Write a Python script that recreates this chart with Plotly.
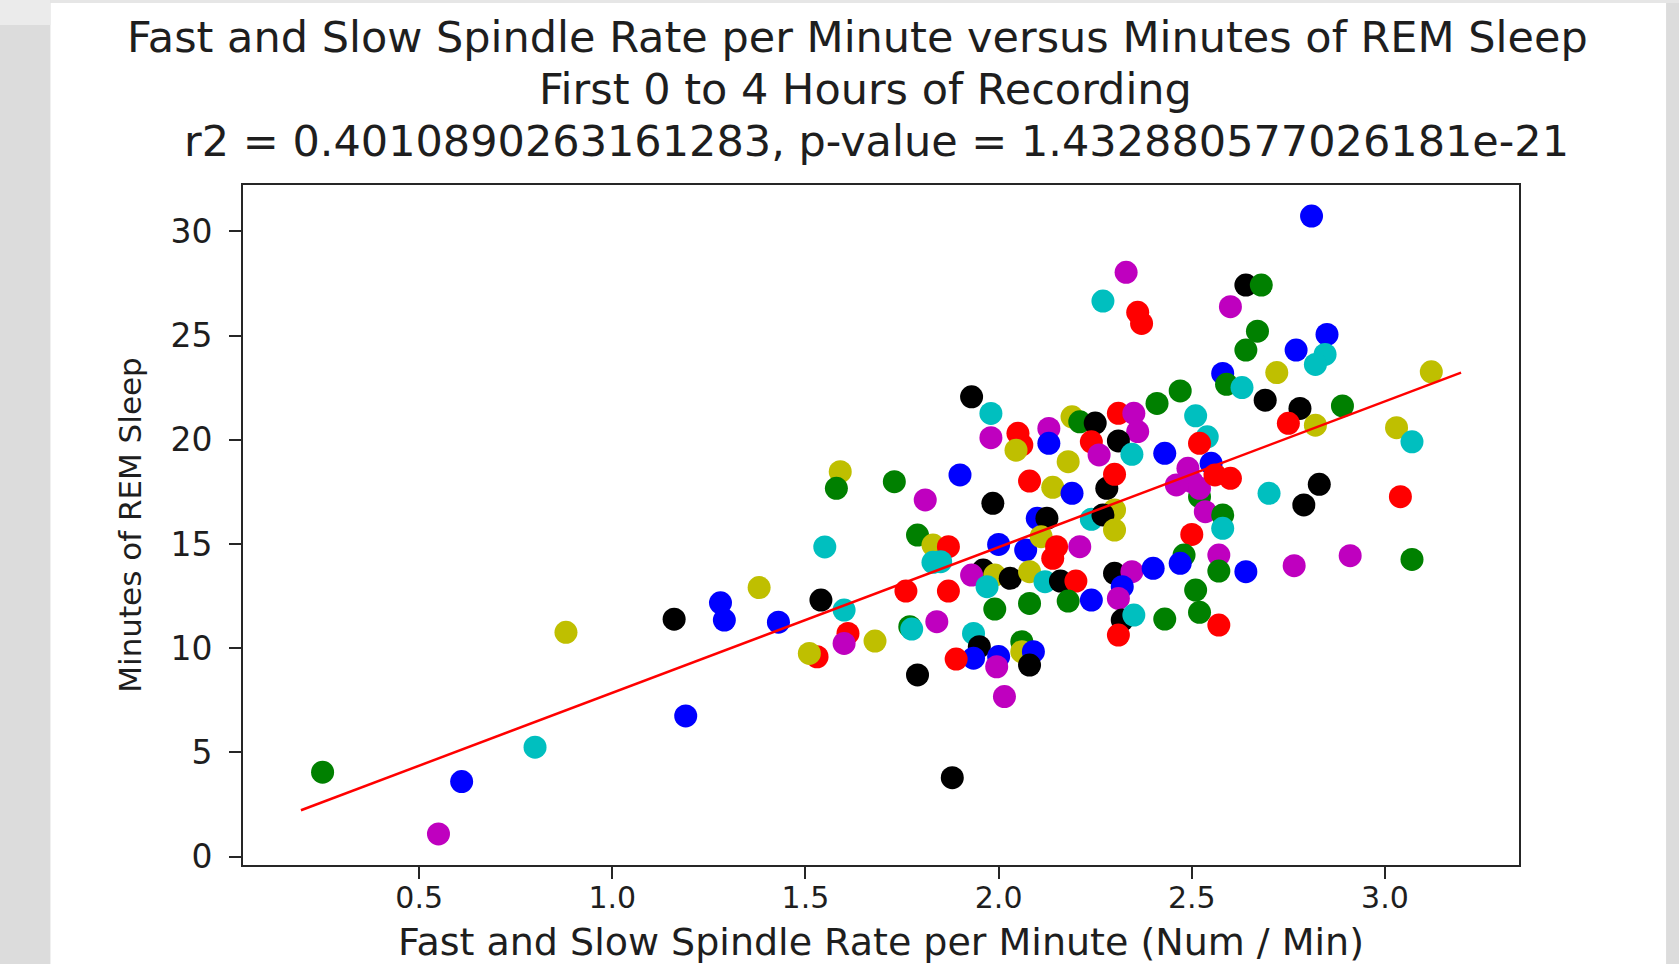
import plotly.graph_objects as go

# ---- data ----
spindle_rate = [
    0.25, 0.61, 0.55, 0.80, 1.19, 0.88, 1.16, 1.28, 1.29, 1.38,
    1.43, 1.54, 1.55, 1.59, 1.58, 1.73, 1.60, 1.61, 1.60, 1.68,
    1.53, 1.51, 1.76, 1.87, 1.77, 1.775, 1.84, 1.79, 1.83, 1.87,
    1.85, 1.83, 1.81, 1.90, 1.93, 1.98, 1.98, 2.05, 2.06, 2.045,
    2.13, 2.13, 2.19, 2.21, 2.25, 2.24, 2.26, 2.18, 2.08, 2.14,
    2.19, 2.28, 1.985, 2.10, 2.125, 2.24, 2.00, 2.07, 2.11, 2.15,
    2.14, 2.21, 1.96, 1.93, 1.99, 1.97, 2.03, 2.08, 2.12, 2.16,
    2.20, 1.99, 2.08, 2.18, 2.24, 1.935, 1.95, 1.935, 1.89, 2.00,
    1.995, 2.06, 2.06, 2.09, 2.08, 1.79, 2.015, 1.88,
    2.81, 2.33, 2.27, 2.36, 2.37, 2.64, 2.68, 2.60, 2.67, 2.64,
    2.85, 2.77, 2.845, 2.82, 2.72, 3.12, 2.58, 2.59, 2.63, 2.69,
    2.47, 2.41, 2.78, 2.75, 2.82, 2.89, 3.03, 3.07, 2.51, 2.31,
    2.35, 2.36, 2.31, 2.345, 2.54, 2.52, 2.43, 2.55, 2.52, 2.49,
    2.46, 2.50, 2.52, 2.56, 2.60, 2.30, 2.70, 2.83, 2.79, 3.04,
    2.30, 2.27, 2.30, 2.535, 2.58, 2.58, 2.50, 2.48, 2.47, 2.57,
    2.57, 2.64, 2.765, 2.91, 3.07, 2.30, 2.345, 2.40, 2.32, 2.31,
    2.51, 2.32, 2.35, 2.31, 2.43, 2.52, 2.57,
]
rem_minutes = [
    4.05, 3.60, 1.09, 5.25, 6.75, 10.76, 11.39, 12.18, 11.35, 12.91,
    11.25, 12.31, 14.86, 18.47, 17.67, 17.99, 11.83, 10.71, 10.23, 10.34,
    9.59, 9.75, 12.74, 12.74, 11.03, 10.92, 11.27, 15.43, 14.95, 14.87,
    14.15, 14.12, 17.11, 18.31, 22.06, 21.26, 20.10, 20.31, 19.75, 19.50,
    20.54, 19.83, 21.10, 20.86, 20.80, 19.90, 19.27, 18.95, 18.02, 17.72,
    17.43, 17.67, 16.95, 16.23, 16.23, 16.18, 14.98, 14.71, 15.35, 14.87,
    14.31, 14.87, 13.75, 13.51, 13.51, 12.95, 13.35, 13.67, 13.19, 13.22,
    13.22, 11.88, 12.15, 12.26, 12.31, 10.71, 10.07, 9.52, 9.48, 9.60,
    9.11, 10.31, 9.83, 9.83, 9.19, 8.72, 7.68, 3.79,
    30.73, 28.03, 26.65, 26.11, 25.58, 27.42, 27.42, 26.38, 25.21, 24.30,
    25.05, 24.30, 24.09, 23.61, 23.22, 23.26, 23.18, 22.66, 22.50, 21.90,
    22.34, 21.74, 21.50, 20.79, 20.70, 21.62, 20.58, 19.90, 21.15, 21.27,
    21.27, 20.39, 19.94, 19.30, 20.14, 19.83, 19.35, 18.87, 17.27, 18.63,
    17.83, 17.99, 17.67, 18.31, 18.15, 18.34, 17.43, 17.86, 16.87, 17.27,
    16.63, 16.39, 15.67, 16.55, 16.39, 15.75, 15.46, 14.47, 14.07, 14.47,
    13.70, 13.67, 13.96, 14.44, 14.26, 13.59, 13.67, 13.83, 12.95, 12.39,
    12.79, 11.35, 11.59, 10.63, 11.40, 11.72, 11.11,
]
point_colors = [
    "g", "b", "m", "c", "b", "y", "k", "b", "b", "y",
    "b", "k", "c", "y", "g", "g", "c", "r", "m", "y",
    "r", "y", "r", "r", "g", "c", "m", "g", "y", "r",
    "c", "c", "m", "b", "k", "c", "m", "r", "r", "y",
    "m", "b", "y", "g", "k", "r", "m", "y", "r", "y",
    "b", "k", "k", "b", "k", "c", "b", "b", "y", "r",
    "r", "m", "k", "m", "y", "c", "k", "y", "c", "k",
    "r", "g", "g", "g", "b", "c", "k", "b", "r", "b",
    "m", "g", "y", "b", "k", "k", "m", "k",
    "b", "m", "c", "r", "r", "k", "g", "m", "g", "g",
    "b", "b", "c", "c", "y", "y", "b", "g", "c", "k",
    "g", "g", "k", "r", "y", "g", "y", "c", "c", "r",
    "m", "m", "k", "c", "c", "r", "b", "b", "g", "m",
    "m", "m", "m", "r", "r", "r", "c", "k", "k", "r",
    "y", "k", "y", "m", "g", "c", "r", "g", "b", "m",
    "g", "b", "m", "m", "g", "k", "m", "b", "b", "m",
    "g", "k", "c", "r", "g", "g", "r",
]
color_map = {"b": "#0000ff", "g": "#008000", "r": "#ff0000", "c": "#00bfbf",
             "m": "#bf00bf", "y": "#bfbf00", "k": "#000000"}

fit_x = [0.194, 3.197]
fit_slope = 6.99
fit_intercept = 0.87
fit_y = [fit_intercept + fit_slope * v for v in fit_x]

x_ticks = [0.5, 1.0, 1.5, 2.0, 2.5, 3.0]
x_tick_labels = ["0.5", "1.0", "1.5", "2.0", "2.5", "3.0"]
y_ticks = [0, 5, 10, 15, 20, 25, 30]
y_tick_labels = ["0", "5", "10", "15", "20", "25", "30"]

title_lines = [
    "Fast and Slow Spindle Rate per Minute versus Minutes of REM Sleep",
    "First 0 to 4 Hours of Recording",
    "r2 = 0.4010890263161283, p-value = 1.432880577026181e-21",
]
x_label = "Fast and Slow Spindle Rate per Minute (Num / Min)"
y_label = "Minutes of REM Sleep"

FONT = "DejaVu Sans"
TXT = "#1e1e1e"
AX = "#262626"

fig = go.Figure()
fig.add_trace(go.Scatter(
    x=spindle_rate, y=rem_minutes, mode="markers",
    marker=dict(size=23, color=[color_map[c] for c in point_colors], line=dict(width=0)),
    hoverinfo="skip", showlegend=False,
))
fig.add_trace(go.Scatter(
    x=fit_x, y=fit_y, mode="lines",
    line=dict(color="#ff0000", width=2.5),
    hoverinfo="skip", showlegend=False,
))

axis_common = dict(
    showgrid=False, zeroline=False, showline=True, mirror=True,
    linecolor=AX, linewidth=2, ticks="outside", ticklen=12, tickwidth=2,
    tickcolor=AX,
)
fig.update_xaxes(range=[0.044, 3.347], tickvals=x_ticks, ticktext=x_tick_labels,
                 tickfont=dict(family=FONT, size=30, color=TXT), ticklabelstandoff=-7,
                 title=dict(text=x_label, font=dict(family=FONT, size=38, color=TXT), standoff=17),
                 **axis_common)
fig.update_yaxes(range=[-0.40, 32.22], tickvals=y_ticks, ticktext=y_tick_labels,
                 tickfont=dict(family=FONT, size=33, color=TXT), ticklabelstandoff=10,
                 title=dict(text=y_label, font=dict(family=FONT, size=31, color=TXT), standoff=20),
                 **axis_common)

title_x = [0.4818, 0.4877, 0.4967]
title_y = [1.2176, 1.1412, 1.0647]
for line, xx, yy in zip(title_lines, title_x, title_y):
    fig.add_annotation(text=line, xref="paper", yref="paper", x=xx, y=yy,
                       xanchor="center", yanchor="middle", showarrow=False,
                       font=dict(family=FONT, size=43, color=TXT))

fig.add_shape(type="rect", xref="paper", yref="paper", x0=-0.15092, x1=1.11525,
              y0=-0.3, y1=1.26765, fillcolor="#ffffff", line=dict(width=0), layer="below")
fig.add_shape(type="rect", xref="paper", yref="paper", x0=-0.3, x1=-0.15092,
              y0=1.2353, y1=1.4, fillcolor="#ebebeb", line=dict(width=0), layer="below")
fig.add_shape(type="rect", xref="paper", yref="paper", x0=-0.15092, x1=1.3,
              y0=1.26765, y1=1.4, fillcolor="#e6e6e6", line=dict(width=0), layer="below")

fig.update_layout(
    width=1679, height=964,
    margin=dict(l=243, r=160, t=185, b=99, pad=0, autoexpand=False),
    paper_bgcolor="#dcdcdc", plot_bgcolor="#ffffff",
    font=dict(family=FONT, color=TXT),
)
fig.write_html("out.html")
